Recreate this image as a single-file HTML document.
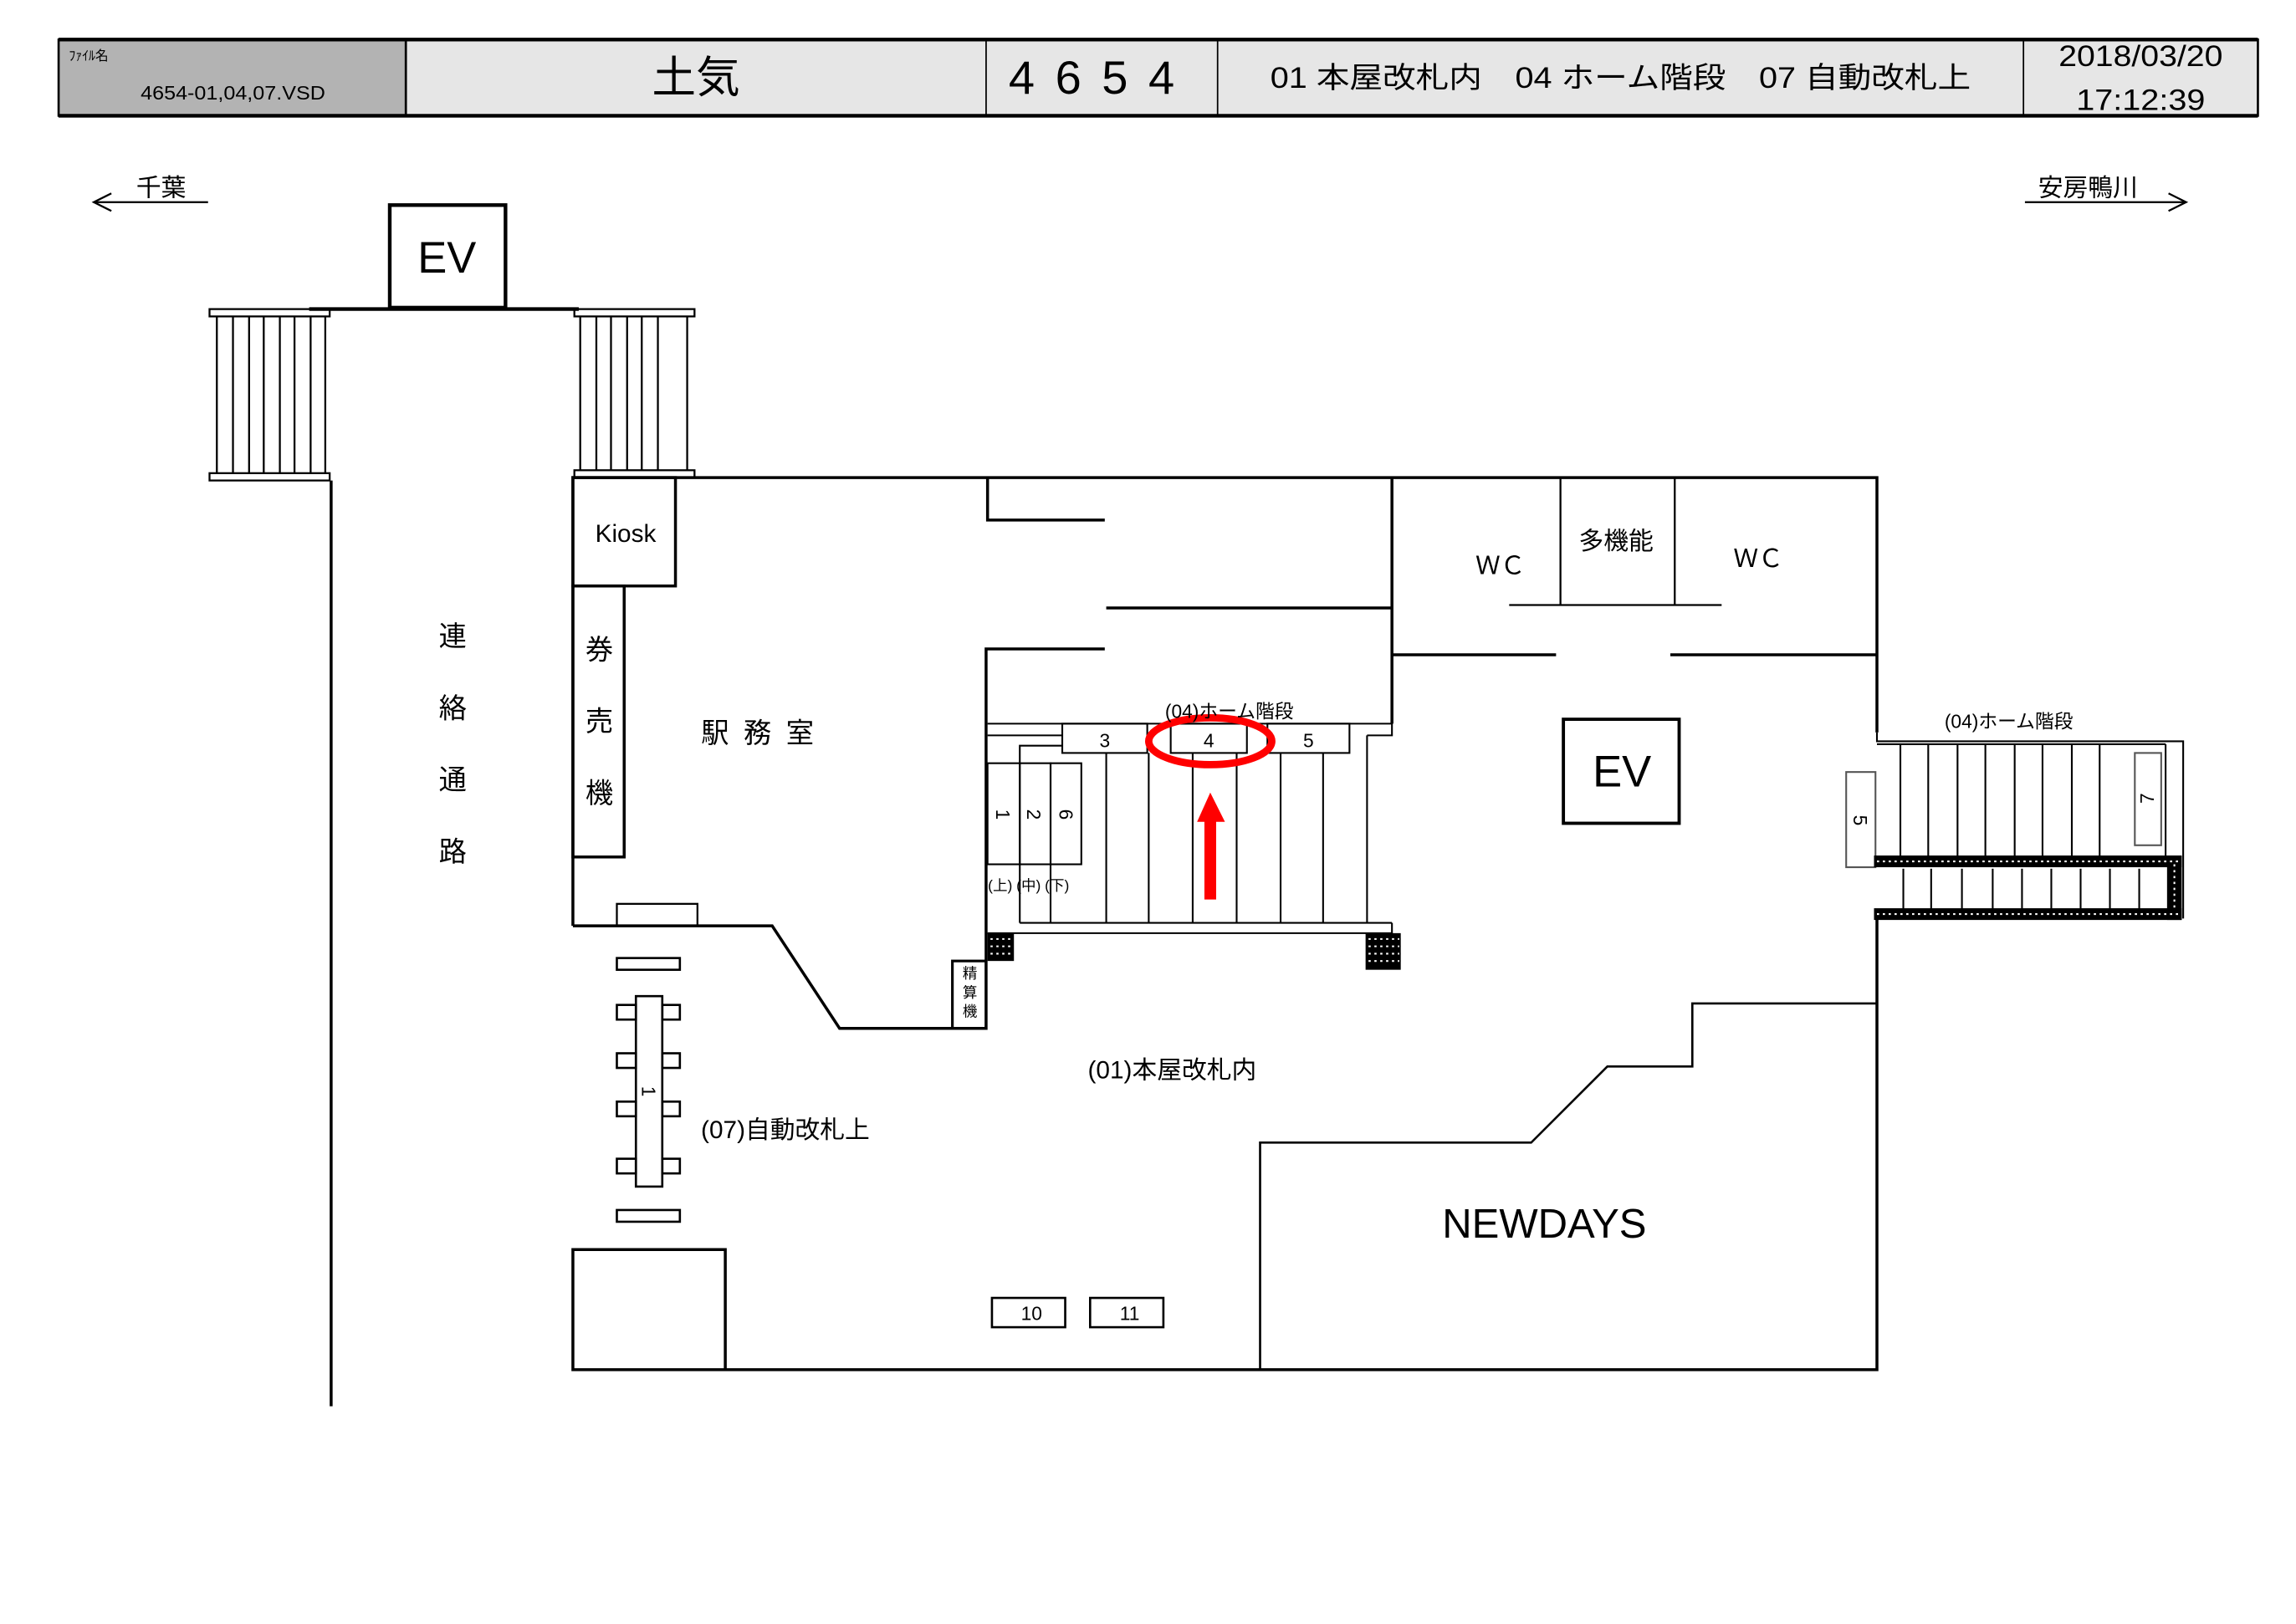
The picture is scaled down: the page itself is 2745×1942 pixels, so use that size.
<!DOCTYPE html>
<html><head><meta charset="utf-8"><style>
html,body{margin:0;padding:0;background:#fff;}
svg{display:block;}
text{font-family:"Liberation Sans","Noto Sans CJK JP",sans-serif;fill:#000;}
</style></head><body>
<svg width="2745" height="1942" viewBox="0 0 1567 1108.6" xmlns="http://www.w3.org/2000/svg">
<g stroke="#000" fill="none" stroke-width="2">
<rect x="40" y="27" width="237" height="52" fill="#b3b3b3" stroke-width="1.5"/>
<rect x="277" y="27" width="1264" height="52" fill="#e6e6e6" stroke-width="1.5"/>
<line x1="40" y1="27" x2="1541" y2="27" stroke-width="2.5"/>
<line x1="40" y1="79" x2="1541" y2="79" stroke-width="2.5"/>
<line x1="673" y1="27" x2="673" y2="79" stroke-width="1"/>
<line x1="831" y1="27" x2="831" y2="79" stroke-width="1"/>
<line x1="1381" y1="27" x2="1381" y2="79" stroke-width="1"/>
<polyline points="142,138 64,138" stroke-width="1.3"/><polyline points="76,132 64,138 76,144" stroke-width="1.3"/>
<polyline points="1382,138 1492,138" stroke-width="1.3"/><polyline points="1480,132 1492,138 1480,144" stroke-width="1.3"/>
<rect x="266" y="140" width="79" height="70" stroke-width="2.5"/>
<line x1="211" y1="211" x2="395" y2="211" stroke-width="2.5"/>
<rect x="143" y="211" width="82" height="5" stroke-width="1.3"/>
<rect x="143" y="323" width="82" height="5" stroke-width="1.3"/>
<g stroke-width="1.3"><line x1="148" y1="216" x2="148" y2="323"/><line x1="159" y1="216" x2="159" y2="323"/><line x1="170" y1="216" x2="170" y2="323"/><line x1="180" y1="216" x2="180" y2="323"/><line x1="191" y1="216" x2="191" y2="323"/><line x1="201" y1="216" x2="201" y2="323"/><line x1="212" y1="216" x2="212" y2="323"/><line x1="222" y1="216" x2="222" y2="323"/></g>
<rect x="392" y="211" width="82" height="5" stroke-width="1.3"/>
<rect x="392" y="321" width="82" height="5" stroke-width="1.3"/>
<g stroke-width="1.3"><line x1="396" y1="216" x2="396" y2="321"/><line x1="407" y1="216" x2="407" y2="321"/><line x1="417" y1="216" x2="417" y2="321"/><line x1="428" y1="216" x2="428" y2="321"/><line x1="438" y1="216" x2="438" y2="321"/><line x1="449" y1="216" x2="449" y2="321"/><line x1="469" y1="216" x2="469" y2="321"/></g>
<line x1="226" y1="328" x2="226" y2="960"/>
<polyline points="391,632 391,326 1281,326 1281,500"/>
<polyline points="1281,627 1281,935 391,935 391,853 495,853 495,935"/>
<polyline points="391,632 527,632 573,702 673,702 673,443 754,443"/>
<rect x="391" y="326" width="70" height="74"/>
<rect x="391" y="400" width="35" height="185"/>
<rect x="421" y="617" width="55" height="15" stroke-width="1.3"/>
<polyline points="674,326 674,355 754,355"/>
<line x1="755" y1="415" x2="950" y2="415"/>
<line x1="950" y1="326" x2="950" y2="494"/>
<line x1="1065" y1="326" x2="1065" y2="413" stroke-width="1.3"/>
<line x1="1143" y1="326" x2="1143" y2="413" stroke-width="1.3"/>
<line x1="1030" y1="413" x2="1175" y2="413" stroke-width="1.3"/>
<line x1="950" y1="447" x2="1062" y2="447"/>
<line x1="1140" y1="447" x2="1281" y2="447"/>
<rect x="1067" y="491" width="79" height="71" stroke-width="2.2"/>
<polyline points="860,935 860,780 1045,780 1097,728 1155,728 1155,685 1281,685" stroke-width="1.5"/>
<g stroke-width="1.2">
<polyline points="674,494 950,494 950,502 933,502"/>
<polyline points="674,502 725,502"/>
<rect x="725" y="494" width="58" height="20"/>
<rect x="799" y="494" width="52" height="20"/>
<rect x="865" y="494" width="56" height="20"/>
<polyline points="696,521 696,509 725,509"/>
<rect x="674" y="521" width="22" height="69"/><rect x="696" y="521" width="21" height="69"/><rect x="717" y="521" width="21" height="69"/>
<line x1="696" y1="590" x2="696" y2="630"/><line x1="717" y1="590" x2="717" y2="630"/>
<line x1="755" y1="514" x2="755" y2="630"/><line x1="784" y1="514" x2="784" y2="630"/><line x1="814" y1="514" x2="814" y2="630"/><line x1="844" y1="514" x2="844" y2="630"/><line x1="874" y1="514" x2="874" y2="630"/><line x1="903" y1="514" x2="903" y2="630"/><line x1="933" y1="502" x2="933" y2="630"/>
<line x1="696" y1="630" x2="950" y2="630"/>
<polyline points="674,637 950,637 950,630"/>
<rect x="650" y="656" width="23" height="46" stroke-width="1.8"/>
</g>
<g stroke-width="1.2">
<polyline points="1281,500 1281,506 1490,506 1490,627"/>
<line x1="1281" y1="508" x2="1478" y2="508"/>
<line x1="1297" y1="508" x2="1297" y2="587"/><line x1="1316" y1="508" x2="1316" y2="587"/><line x1="1336" y1="508" x2="1336" y2="587"/><line x1="1355" y1="508" x2="1355" y2="587"/><line x1="1375" y1="508" x2="1375" y2="587"/><line x1="1394" y1="508" x2="1394" y2="587"/><line x1="1414" y1="508" x2="1414" y2="587"/><line x1="1433" y1="508" x2="1433" y2="587"/><line x1="1478" y1="508" x2="1478" y2="587"/>
<line x1="1299" y1="593" x2="1299" y2="621"/><line x1="1318" y1="593" x2="1318" y2="621"/><line x1="1339" y1="593" x2="1339" y2="621"/><line x1="1360" y1="593" x2="1360" y2="621"/><line x1="1380" y1="593" x2="1380" y2="621"/><line x1="1400" y1="593" x2="1400" y2="621"/><line x1="1420" y1="593" x2="1420" y2="621"/><line x1="1440" y1="593" x2="1440" y2="621"/><line x1="1460" y1="593" x2="1460" y2="621"/>
<rect x="1260" y="527" width="20" height="65" stroke="#555"/>
<rect x="1457" y="514" width="18" height="63" stroke="#555"/>
</g>
<g stroke-width="1.5">
<rect x="421" y="654" width="43" height="8"/>
<rect x="421" y="826" width="43" height="8"/>
<rect x="434" y="680" width="18" height="130"/>
<rect x="421" y="686" width="13" height="10"/><rect x="452" y="686" width="12" height="10"/>
<rect x="421" y="719" width="13" height="10"/><rect x="452" y="719" width="12" height="10"/>
<rect x="421" y="752" width="13" height="10"/><rect x="452" y="752" width="12" height="10"/>
<rect x="421" y="791" width="13" height="10"/><rect x="452" y="791" width="12" height="10"/>
<rect x="677" y="886" width="50" height="20"/>
<rect x="744" y="886" width="50" height="20"/>
</g>
</g>
<g fill="#000">
<rect x="674" y="637" width="18" height="19"/>
<rect x="932" y="637" width="24" height="25"/>
<rect x="1279" y="584" width="210" height="8"/>
<rect x="1279" y="620" width="210" height="8"/>
<rect x="1479" y="584" width="10" height="44"/>
</g>
<g fill="none" stroke="#fff" stroke-width="1.2" stroke-dasharray="1.5 2.5">
<line x1="676" y1="641" x2="691" y2="641"/><line x1="676" y1="646" x2="691" y2="646"/><line x1="676" y1="651" x2="691" y2="651"/>
<line x1="934" y1="641" x2="955" y2="641"/><line x1="934" y1="646" x2="955" y2="646"/><line x1="934" y1="651" x2="955" y2="651"/><line x1="934" y1="656" x2="955" y2="656"/>
<line x1="1281" y1="588" x2="1488" y2="588"/><line x1="1281" y1="624" x2="1488" y2="624"/>
<line x1="1484" y1="590" x2="1484" y2="622"/>
</g>
<ellipse cx="826" cy="506" rx="42" ry="16" fill="none" stroke="#f00" stroke-width="5"/>
<polygon points="826,541 817,561 822,561 822,614 830,614 830,561 836,561" fill="#f00"/>
<text x="47" y="41" font-size="9">ﾌｧｲﾙ名</text>
<text x="96" y="68" font-size="13" textLength="126" lengthAdjust="spacingAndGlyphs">4654-01,04,07.VSD</text>
<text x="475" y="63" font-size="30" text-anchor="middle">土気</text>
<text x="752" y="64" font-size="32" text-anchor="middle" letter-spacing="14">4654</text>
<text x="1106" y="60" font-size="20" text-anchor="middle" textLength="478" lengthAdjust="spacingAndGlyphs">01 本屋改札内　04 ホーム階段　07 自動改札上</text>
<text x="1461" y="45" font-size="20" text-anchor="middle" textLength="112" lengthAdjust="spacingAndGlyphs">2018/03/20</text>
<text x="1461" y="75" font-size="20" text-anchor="middle" textLength="88" lengthAdjust="spacingAndGlyphs">17:12:39</text>
<text x="110" y="134" font-size="17" text-anchor="middle">千葉</text>
<text x="1425" y="134" font-size="17" text-anchor="middle">安房鴨川</text>
<text x="305" y="186" font-size="30" text-anchor="middle">EV</text>
<text x="1107" y="537" font-size="30" text-anchor="middle">EV</text>
<text x="427" y="370" font-size="17" text-anchor="middle">Kiosk</text>
<g font-size="19" text-anchor="middle">
<text x="409" y="450">券</text><text x="409" y="499">売</text><text x="409" y="548">機</text>
<text x="309" y="441">連</text><text x="309" y="490">絡</text><text x="309" y="539">通</text><text x="309" y="588">路</text>
</g>
<text x="522" y="507" font-size="19" text-anchor="middle" letter-spacing="10">駅務室</text>
<text x="1024" y="392" font-size="17" text-anchor="middle">ＷＣ</text>
<text x="1200" y="387" font-size="17" text-anchor="middle">ＷＣ</text>
<text x="1103" y="375" font-size="17" text-anchor="middle">多機能</text>
<text x="839" y="490" font-size="13" text-anchor="middle">(04)ホーム階段</text>
<text x="1371" y="497" font-size="13" text-anchor="middle">(04)ホーム階段</text>
<g font-size="13" text-anchor="middle"><text x="754" y="510">3</text><text x="825" y="510">4</text><text x="893" y="510">5</text></g>
<g font-size="13" text-anchor="middle">
<text transform="translate(680,556) rotate(90)">1</text>
<text transform="translate(701,556) rotate(90)">2</text>
<text transform="translate(723,556) rotate(90)">6</text>
<text transform="translate(1265,560) rotate(90)">5</text>
<text transform="translate(1470,545) rotate(-90)">7</text>
<text transform="translate(438,745) rotate(90)">1</text>
</g>
<text x="702" y="608" font-size="10" text-anchor="middle">(上) (中) (下)</text>
<g font-size="10" text-anchor="middle"><text x="662" y="668">精</text><text x="662" y="681">算</text><text x="662" y="694">機</text></g>
<text x="800" y="736" font-size="17" text-anchor="middle">(01)本屋改札内</text>
<text x="536" y="777" font-size="17" text-anchor="middle">(07)自動改札上</text>
<text x="1054" y="845" font-size="28" text-anchor="middle">NEWDAYS</text>
<g font-size="13" text-anchor="middle"><text x="704" y="901">10</text><text x="771" y="901">11</text></g>
</svg>
</body></html>
